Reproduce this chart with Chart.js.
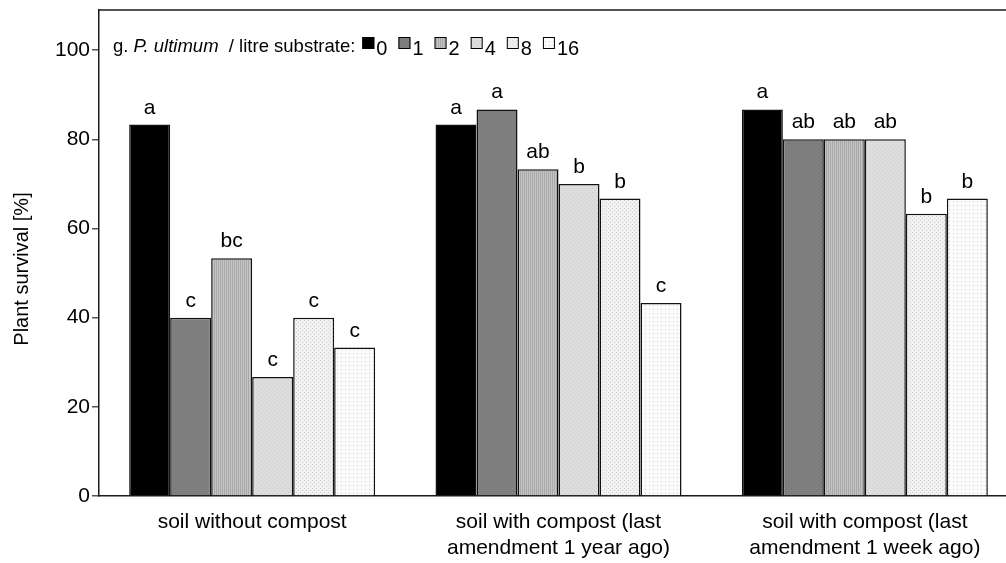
<!DOCTYPE html>
<html>
<head>
<meta charset="utf-8">
<script src="https://cdn.jsdelivr.net/npm/chart.js@4.4.1/dist/chart.umd.min.js"></script>
<style>
  html, body { margin: 0; padding: 0; background: #fff; overflow: hidden; width: 1006px; height: 563px; }
</style>
</head>
<body>
<canvas id="grafico" width="1030" height="563"></canvas>
<script>
// datos
const categorias = [
    ['soil without compost'],
    ['soil with compost (last', 'amendment 1 year ago)'],
    ['soil with compost (last', 'amendment 1 week ago)']
];
const dosis = ['0', '1', '2', '4', '8', '16'];
const dosis0 = [83.3, 83.3, 86.7];
const dosis1 = [40.0, 86.7, 80.0];
const dosis2 = [53.3, 73.3, 80.0];
const dosis4 = [26.7, 70.0, 80.0];
const dosis8 = [40.0, 66.7, 63.3];
const dosis16 = [33.3, 43.3, 66.7];
const letras0 = ['a', 'a', 'a'];
const letras1 = ['c', 'a', 'ab'];
const letras2 = ['bc', 'ab', 'ab'];
const letras4 = ['c', 'b', 'ab'];
const letras8 = ['c', 'b', 'b'];
const letras16 = ['c', 'c', 'b'];
const ticksY = [0, 20, 40, 60, 80, 100];
const tituloY = 'Plant survival [%]';

const series = [dosis0, dosis1, dosis2, dosis4, dosis8, dosis16];
const letras = [letras0, letras1, letras2, letras4, letras8, letras16];

const fuente = "'Liberation Sans', Arial, Helvetica, sans-serif";
Chart.defaults.font.family = fuente;
Chart.defaults.font.size = 21;
Chart.defaults.color = '#000';

// tramas de las barras
function crearTrama(fondo, punto, tipo) {
    const c = document.createElement('canvas');
    c.width = 4; c.height = 4;
    const g = c.getContext('2d');
    g.fillStyle = fondo;
    g.fillRect(0, 0, 4, 4);
    g.fillStyle = punto;
    if (tipo === 'rayas') {
        g.fillRect(0, 0, 1, 4);
        g.fillRect(2, 0, 1, 4);
    } else if (tipo === 'puntos') {
        g.fillRect(0, 0, 1, 1);
        g.fillRect(2, 2, 1, 1);
    } else if (tipo === 'ralo') {
        g.fillRect(1, 1, 1, 1);
    }
    return g.createPattern(c, 'repeat');
}
const ctx = document.getElementById('grafico').getContext('2d');
const tramas = [
    '#000000',
    crearTrama('#7c7c7c', '#8e8e8e', 'puntos'),
    crearTrama('#c4c4c4', '#a9a9a9', 'rayas'),
    crearTrama('#dedede', '#cacaca', 'puntos'),
    crearTrama('#f0f0f0', '#d2d2d2', 'puntos'),
    crearTrama('#fbfbfb', '#d0d0d0', 'ralo')
];

const pluginMarco = {
    id: 'marco',
    afterDraw(chart) {
        const { ctx, chartArea } = chart;
        ctx.save();
        ctx.strokeStyle = '#1a1a1a';
        ctx.lineWidth = 1.5;
        ctx.beginPath();
        ctx.moveTo(chartArea.left, chartArea.top);
        ctx.lineTo(chartArea.right, chartArea.top);
        ctx.stroke();
        // titulo del eje y, algo por debajo del centro como en el original
        ctx.translate(22, (chartArea.top + chartArea.bottom) / 2 + 16);
        ctx.rotate(-Math.PI / 2);
        ctx.font = '20px ' + fuente;
        ctx.fillStyle = '#000';
        ctx.textAlign = 'center';
        ctx.textBaseline = 'middle';
        ctx.fillText(tituloY, 0, 0);
        ctx.restore();
    }
};

const pluginLetras = {
    id: 'letras',
    afterDatasetsDraw(chart) {
        const { ctx } = chart;
        ctx.save();
        ctx.font = '21px ' + fuente;
        ctx.fillStyle = '#000';
        ctx.textAlign = 'center';
        ctx.textBaseline = 'alphabetic';
        chart.data.datasets.forEach((ds, i) => {
            chart.getDatasetMeta(i).data.forEach((bar, j) => {
                ctx.fillText(letras[i][j], bar.x, bar.y - 11);
            });
        });
        ctx.restore();
    }
};

const pluginLeyenda = {
    id: 'leyendaPropia',
    afterDraw(chart) {
        const { ctx, chartArea } = chart;
        ctx.save();
        ctx.fillStyle = '#000';
        ctx.textBaseline = 'alphabetic';
        ctx.textAlign = 'left';
        let x = chartArea.left + 14;
        const y = chartArea.top + 42;
        const partes = [['g. ', ''], ['P. ultimum', 'italic '], ['  / litre substrate:', '']];
        partes.forEach(p => {
            ctx.font = p[1] + '18.5px ' + fuente;
            ctx.fillText(p[0], x, y);
            x += ctx.measureText(p[0]).width;
        });
        x += 7;
        ctx.font = '20px ' + fuente;
        chart.data.datasets.forEach((ds, i) => {
            ctx.fillStyle = ds.backgroundColor;
            ctx.fillRect(x, y - 15, 12, 12);
            ctx.strokeStyle = '#000';
            ctx.lineWidth = 1;
            ctx.strokeRect(x + 0.5, y - 14.5, 11, 11);
            ctx.fillStyle = '#000';
            ctx.fillText(ds.label, x + 14, y + 3);
            x += 14 + ctx.measureText(ds.label).width + 11;
        });
        ctx.restore();
    }
};

new Chart(ctx, {
    type: 'bar',
    data: {
        labels: categorias,
        datasets: series.map((s, i) => ({
            label: dosis[i],
            data: s,
            backgroundColor: tramas[i],
            borderColor: '#111',
            borderWidth: 1.5,
            categoryPercentage: 0.803,
            barPercentage: 1.0
        }))
    },
    options: {
        responsive: false,
        animation: false,
        layout: { padding: { left: 0, top: 0, right: 12, bottom: 0 } },
        plugins: {
            legend: { display: false },
            tooltip: { enabled: false }
        },
        scales: {
            x: {
                grid: { display: false },
                border: { display: true, color: '#1a1a1a', width: 1.5 },
                ticks: { padding: 5, font: { size: 21, lineHeight: 1.25 }, maxRotation: 0, autoSkip: false },
                afterFit(scale) { scale.height = 67; }
            },
            y: {
                min: 0,
                max: 109,
                grid: { display: true, drawOnChartArea: false, drawTicks: true, tickLength: 7, color: '#555', lineWidth: 1.5 },
                border: { display: true, color: '#1a1a1a', width: 1.5 },
                ticks: { padding: 2, font: { size: 21 } },
                afterBuildTicks(scale) { scale.ticks = ticksY.map(v => ({ value: v })); },
                afterFit(scale) {
                    scale.width = 99;
                    scale.paddingTop = 10;
                    scale.paddingBottom = 0;
                }
            }
        }
    },
    plugins: [pluginMarco, pluginLetras, pluginLeyenda]
});
</script>
</body>
</html>
